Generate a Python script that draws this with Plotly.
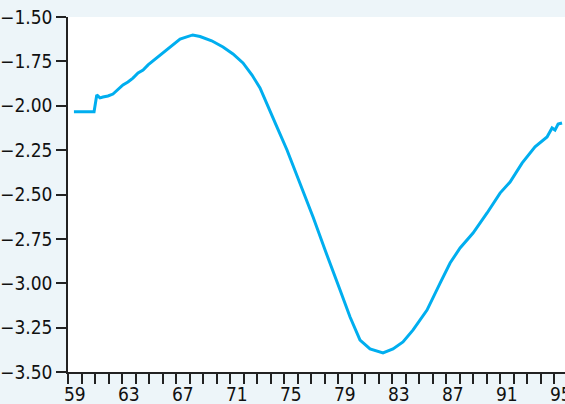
import plotly.graph_objects as go

# Time (years, 19xx) and series values
years = [59.44, 60.93, 61.13, 61.37, 61.59, 61.96, 62.33, 62.70, 63.07, 63.44,
         63.81, 64.19, 64.56, 64.93, 65.30, 65.67, 66.04, 66.41, 66.78, 67.30,
         67.74, 68.24, 68.78, 69.64, 70.48, 71.22, 71.96, 72.63, 73.22, 73.81,
         74.48, 75.22, 76.19, 77.15, 78.04, 78.41, 79.15, 79.89, 80.63, 81.37,
         82.33, 83.07, 83.81, 84.56, 85.59, 86.56, 87.30, 88.04, 89.00, 90.04,
         91.00, 91.74, 92.63, 93.59, 94.48, 94.85, 95.07, 95.30, 95.59]
values = [-2.034, -2.034, -1.939, -1.956, -1.951, -1.945, -1.934, -1.911, -1.883, -1.866,
          -1.844, -1.815, -1.799, -1.770, -1.748, -1.725, -1.703, -1.680, -1.658, -1.624,
          -1.613, -1.601, -1.610, -1.634, -1.669, -1.708, -1.759, -1.827, -1.900, -2.007,
          -2.120, -2.249, -2.435, -2.627, -2.813, -2.886, -3.038, -3.190, -3.320, -3.370,
          -3.393, -3.370, -3.331, -3.263, -3.151, -2.999, -2.886, -2.801, -2.717, -2.604,
          -2.492, -2.430, -2.323, -2.232, -2.176, -2.125, -2.137, -2.103, -2.097]

year_ticks = list(range(59, 96))
label_years = list(range(59, 96, 4))
label_text = [str(y) for y in label_years]
y_ticks = [-3.50, -3.25, -3.00, -2.75, -2.50, -2.25, -2.00, -1.75, -1.50]

FONT = "DejaVu Sans Condensed, Liberation Sans Narrow, sans-serif"
BG = "#edf5f9"

fig = go.Figure()
fig.add_trace(go.Scatter(x=years, y=values, mode="lines",
                         line=dict(color="#00aeef", width=3), hoverinfo="skip"))

fig.update_layout(
    width=565, height=404,
    margin=dict(l=68, r=0, t=17, b=32),
    paper_bgcolor=BG, plot_bgcolor="white",
    showlegend=False,
    font=dict(family=FONT, size=19, color="#111"),
)
fig.update_xaxes(
    range=[59, 95.81], automargin=False,
    tickvals=[y + 0.5 for y in label_years], ticktext=label_text,
    ticks="outside", ticklen=4, tickcolor="rgba(0,0,0,0)",
    ticklabeloverflow="allow",
    showgrid=False, zeroline=False,
    showline=True, linecolor="#222", linewidth=1.5,
    minor=dict(tickvals=year_ticks, ticks="outside", ticklen=10,
               tickwidth=1.5, tickcolor="#222", showgrid=False),
    tickfont=dict(family=FONT, size=19, color="#111"),
)
fig.update_yaxes(
    range=[-3.5, -1.5], automargin=False,
    tickvals=y_ticks, tickformat=".2f",
    ticks="outside", ticklen=10, tickwidth=1.5, tickcolor="#222",
    showgrid=False, zeroline=False,
    showline=True, linecolor="#222", linewidth=1.5,
    tickfont=dict(family=FONT, size=19, color="#111"),
)

fig.write_html("out.html", config={"responsive": False, "displayModeBar": False},
               post_script="document.body.style.margin='0';document.body.style.overflow='hidden';")
